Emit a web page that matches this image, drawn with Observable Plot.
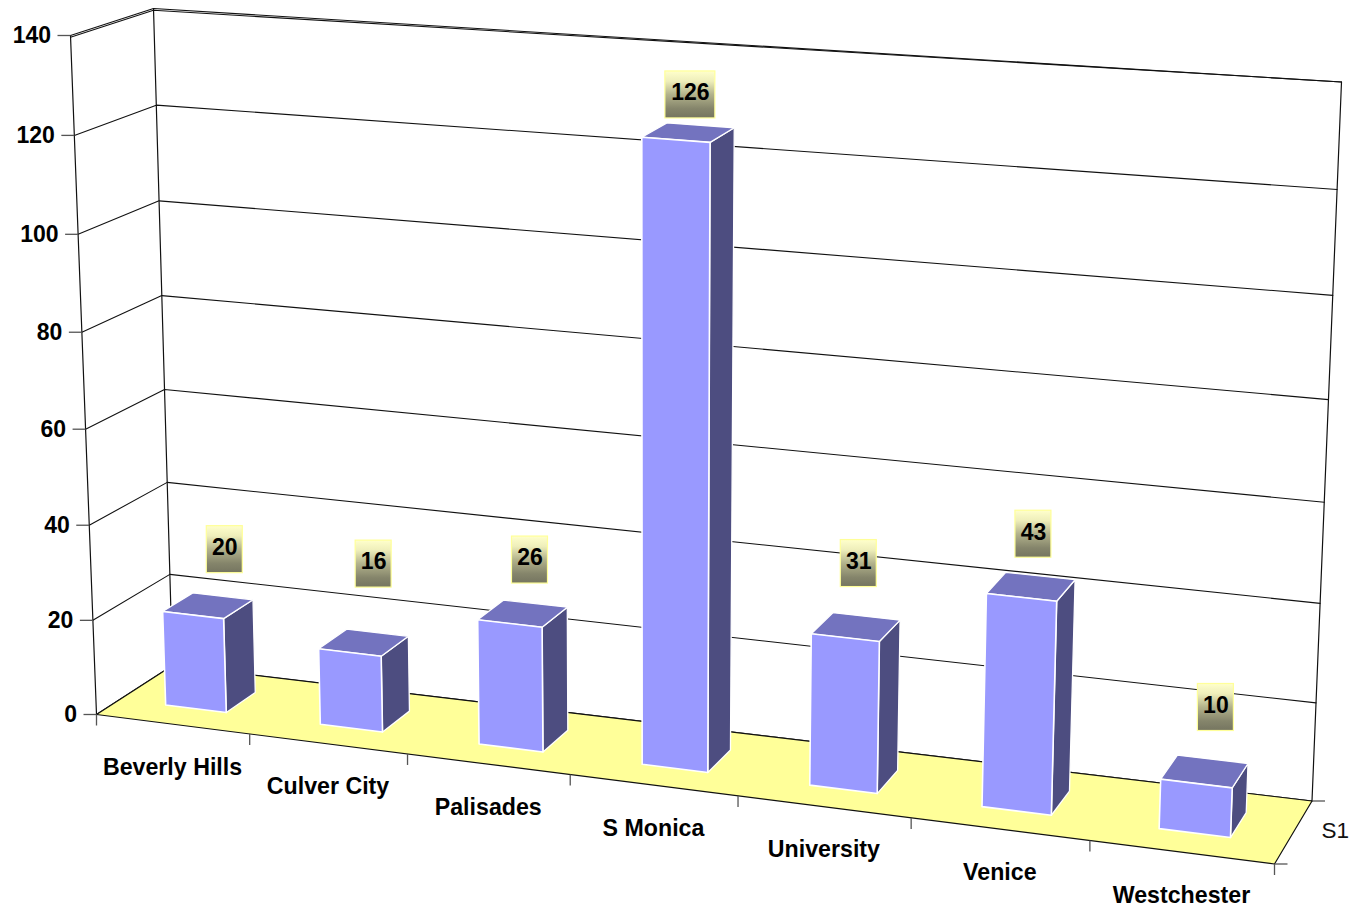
<!DOCTYPE html>
<html>
<head>
<meta charset="utf-8">
<script src="https://cdn.jsdelivr.net/npm/d3@7"></script>
<script src="https://cdn.jsdelivr.net/npm/@observablehq/plot@0.6"></script>
<style>html,body{margin:0;padding:0;background:#fff}svg{display:block}</style>
</head>
<body>
<div id="chart"></div>
<script>
const categories = ["Beverly Hills","Culver City","Palisades","S Monica","University","Venice","Westchester"];
const values = [20,16,26,126,31,43,10];
const valueTicks = [0,20,40,60,80,100,120,140];
const seriesName = "S1";
const maxValue = 140;

// Label box placement relative to the centre of each bar's top face (layout, not data)
const labelShiftX = [17.6,10.7,8,2.8,3.5,3,11.8];
const labelShiftY = [-56.5,-79,-54,-38,-64,-53,-64.5];

// The 3D view: corners of the plot box on the page
const view = {
  frontBottomLeft:[96,714], frontBottomRight:[1274,863.5],
  backBottomLeft:[172,665], backBottomRight:[1311.5,800.5],
  frontTopLeft:[70,35], frontTopRight:[1302,123],
  backTopLeft:[153,8], backTopRight:[1341,81.5]
};
const lerp = (a,b,t)=>a+(b-a)*t;
// u: 0..1 along categories, v: value, w: 0..1 depth, k: foreshortening along the categories
function project(u,v,w,k=1.1){
  const t = u/(u+(1-u)*k);
  const r = v/maxValue;
  const kv = 1.035+0.02*t;
  const s = r/(r+(1-r)*kv);
  const p = i=>{
    const fb = lerp(view.frontBottomLeft[i],view.frontBottomRight[i],t);
    const bb = lerp(view.backBottomLeft[i],view.backBottomRight[i],t);
    const ft = lerp(view.frontTopLeft[i],view.frontTopRight[i],t);
    const bt = lerp(view.backTopLeft[i],view.backTopRight[i],t);
    return lerp(lerp(fb,bb,w),lerp(ft,bt,w),s);
  };
  return [p(0),p(1)];
}
const n = categories.length;
const barLo=0.30, barHi=0.695, depthLo=0.31, depthHi=0.71;
const axisK=1.115;
const pt = (id,u,v,w)=>{const [x,y]=project(u,v,w);return {id,x,y};};
const poly = (id,corners)=>[...corners,corners[0]].map(c=>pt(id,c[0],c[1],c[2]));

const floor = poly("floor",[[0,0,0],[1,0,0],[1,0,1],[0,0,1]]);
const gridLines = valueTicks.flatMap(v=>[pt("g"+v,0,v,0),pt("g"+v,0,v,1),pt("g"+v,1,v,1)]);
const topEdge = gridLines.filter(d=>d.id==="g"+maxValue);
// The top edge is doubled on the left and closes to one line at the right corner
const topEdgeInner = topEdge.map((d,i)=>({...d,y:d.y+(i<2?1.8:0)}));
const edges = [
  pt("a",0,0,0),pt("a",0,maxValue,0),
  pt("b",0,0,1),pt("b",0,maxValue,1),
  pt("c",1,0,1),pt("c",1,maxValue,1),
  pt("d",0,0,1),pt("d",1,0,1),
  pt("e",0,0,0),pt("e",1,0,0),
  pt("f",0,0,0),pt("f",0,0,1),
  pt("h",1,0,0),pt("h",1,0,1)
];
const fronts=[],tops=[],sides=[],boxes=[];
values.forEach((val,i)=>{
  const a=(i+barLo)/n,b=(i+barHi)/n;
  fronts.push(...poly("f"+i,[[a,0,depthLo],[b,0,depthLo],[b,val,depthLo],[a,val,depthLo]]));
  tops.push(...poly("t"+i,[[a,val,depthLo],[b,val,depthLo],[b,val,depthHi],[a,val,depthHi]]));
  sides.push(...poly("s"+i,[[b,0,depthLo],[b,0,depthHi],[b,val,depthHi],[b,val,depthLo]]));
  const c=project((a+b)/2,val,0.5);
  const cx=c[0]+labelShiftX[i], cy=c[1]+labelShiftY[i];
  const hw=String(val).length>2?25:18;
  boxes.push({label:String(val),cx,cy,x1:cx-hw,x2:cx+hw,y1:cy-23.5,y2:cy+23.5});
});
const valueTickRows = valueTicks.map(v=>{const [x,y]=project(0,v,0);return {v,x,y,x0:x-13};});
const catTickRows = d3.range(n+1).map(i=>{const [x,y]=project(i/n,0,0,axisK);return {x,y,y2:y+11};});
const catLabelRows = categories.map((c,i)=>{const [x,y]=project((i+0.5)/n,0,0,axisK);return {c,x,y};});
const depthTickRows = [0,1].map(w=>{const [x,y]=project(1,0,w);return {x,y,x2:x+13};});
const sLabel = (()=>{const a=project(1,0,0.5);return [{t:seriesName,x:a[0],y:a[1]}];})();

const defs = ()=>{
  const d=d3.create("svg:defs");
  const g=d.append("linearGradient").attr("id","labelGrad").attr("x1",0).attr("y1",0).attr("x2",0).attr("y2",1);
  [[0,"#ffffcc"],[0.22,"#eeeeba"],[0.5,"#b3b38c"],[0.8,"#85856b"],[1,"#757560"]].forEach(([o,c])=>g.append("stop").attr("offset",o).attr("stop-color",c));
  return d.node();
};
const lineCol="#111";
const font="Liberation Sans, Arial, sans-serif";
const chart = Plot.plot({
  width:1354,height:910,
  marginTop:0,marginRight:0,marginBottom:0,marginLeft:0,
  x:{type:"linear",domain:[0,1354],range:[0,1354],axis:null},
  y:{type:"linear",domain:[0,910],range:[0,910],axis:null},
  style:{fontFamily:font,background:"#fff"},
  marks:[
    defs,
    Plot.line(gridLines,{x:"x",y:"y",z:"id",stroke:lineCol,strokeWidth:1.1}),
    Plot.line(topEdgeInner,{x:"x",y:"y",stroke:lineCol,strokeWidth:1.1}),
    Plot.line(floor,{x:"x",y:"y",z:"id",fill:"#ffff99",stroke:"none"}),
    Plot.line(edges,{x:"x",y:"y",z:"id",stroke:lineCol,strokeWidth:1.2}),
    Plot.link(valueTickRows,{x1:"x0",x2:"x",y1:"y",y2:"y",stroke:"#555",strokeWidth:1.3}),
    Plot.link(catTickRows,{x1:"x",x2:"x",y1:"y",y2:"y2",stroke:"#555",strokeWidth:1.3}),
    Plot.link(depthTickRows,{x1:"x",x2:"x2",y1:"y",y2:"y",stroke:"#555",strokeWidth:1.3}),
    Plot.text(valueTickRows,{x:"x",y:"y",text:"v",textAnchor:"end",dx:-19.5,dy:0,fontSize:23,fontWeight:"bold",fill:"#000"}),
    Plot.text(catLabelRows,{x:"x",y:"y",text:"c",dy:43,fontSize:23.2,fontWeight:"bold",fill:"#000"}),
    Plot.text(sLabel,{x:"x",y:"y",text:"t",dx:42,dy:-2,fontSize:22.5,fill:"#111"}),
    Plot.line(sides,{x:"x",y:"y",z:"id",fill:"#4d4d80",stroke:"#fff",strokeWidth:1.3,strokeLinejoin:"round"}),
    Plot.line(tops,{x:"x",y:"y",z:"id",fill:"#7373bf",stroke:"#fff",strokeWidth:1.3,strokeLinejoin:"round"}),
    Plot.line(fronts,{x:"x",y:"y",z:"id",fill:"#9999ff",stroke:"#fff",strokeWidth:1.6,strokeLinejoin:"round"}),
    Plot.rect(boxes,{x1:"x1",x2:"x2",y1:"y1",y2:"y2",fill:"url(#labelGrad)",stroke:"#ffff99",strokeWidth:1.2}),
    Plot.text(boxes,{x:"cx",y:"cy",text:"label",dy:-2,fontSize:23,fontWeight:"bold",fill:"#000"})
  ]
});
document.getElementById("chart").append(chart);
</script>
</body>
</html>
